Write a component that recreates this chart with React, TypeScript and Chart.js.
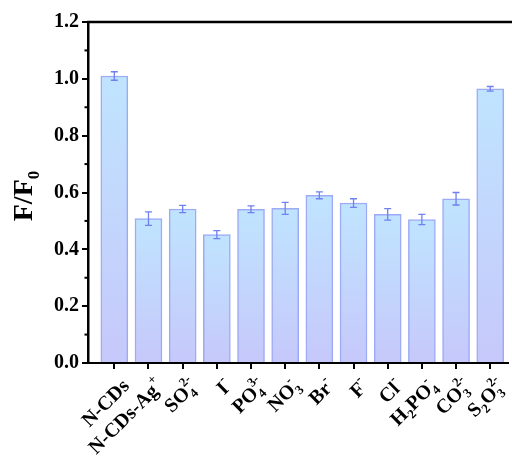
import React, { useEffect, useRef } from "react";
import { Chart, registerables } from "chart.js";

Chart.register(...registerables);

const categories = [
  "N-CDs",
  "N-CDs-Ag^{+}",
  "SO_{4}^{2-}",
  "I^{-}",
  "PO_{4}^{3-}",
  "NO_{3}^{-}",
  "Br^{-}",
  "F^{-}",
  "Cl^{-}",
  "H_{2}PO_{4}^{-}",
  "CO_{3}^{2-}",
  "S_{2}O_{3}^{2-}",
];
const values = [1.01, 0.508, 0.542, 0.452, 0.541, 0.544, 0.59, 0.563, 0.523, 0.505, 0.578, 0.965];
const errors = [0.015, 0.024, 0.013, 0.014, 0.012, 0.021, 0.012, 0.015, 0.02, 0.018, 0.022, 0.008];
const yTicks = [0, 0.2, 0.4, 0.6, 0.8, 1.0, 1.2];
const yMinorTicks = [0.1, 0.3, 0.5, 0.7, 0.9, 1.1];
const yTitleMain = "F/F";
const yTitleSub = "0";

const FONT = "'Liberation Serif', 'Times New Roman', serif";

type Run = { t: "n" | "sub" | "sup" | "ss"; a: string; b?: string };

function parseLabel(s: string): Run[] {
  const runs: Run[] = [];
  let i = 0;
  let buf = "";
  const flush = () => {
    if (buf) runs.push({ t: "n", a: buf });
    buf = "";
  };
  while (i < s.length) {
    const c = s[i];
    if ((c === "_" || c === "^") && s[i + 1] === "{") {
      flush();
      const end = s.indexOf("}", i);
      const txt = s.slice(i + 2, end);
      const type = c === "_" ? "sub" : "sup";
      const last = runs[runs.length - 1];
      if (type === "sup" && last && last.t === "sub") {
        last.t = "ss";
        last.b = txt;
      } else {
        runs.push({ t: type, a: txt });
      }
      i = end + 1;
    } else {
      buf += c;
      i++;
    }
  }
  flush();
  return runs;
}

const labelsPlugin = {
  id: "customLabels",
  afterDraw(chart: any) {
    const { ctx, scales, chartArea } = chart;
    const xs = scales.x;
    const ys = scales.y;
    ctx.save();
    // top frame line
    ctx.strokeStyle = "#000";
    ctx.lineWidth = 2.5;
    ctx.beginPath();
    ctx.moveTo(chartArea.left - 1, chartArea.top);
    ctx.lineTo(chart.width, chartArea.top);
    ctx.stroke();
    // minor y ticks
    ctx.lineWidth = 2;
    yMinorTicks.forEach((v) => {
      const y = ys.getPixelForValue(v);
      ctx.beginPath();
      ctx.moveTo(chartArea.left - 3.5, y);
      ctx.lineTo(chartArea.left, y);
      ctx.stroke();
    });
    // x labels
    const big = 20;
    const small = 13;
    ctx.fillStyle = "#000";
    categories.forEach((lab, i) => {
      const runs = parseLabel(lab);
      const fb = `bold ${big}px ${FONT}`;
      const fs = `bold ${small}px ${FONT}`;
      let total = 0;
      const widths = runs.map((r) => {
        let w = 0;
        if (r.t === "n") {
          ctx.font = fb;
          w = ctx.measureText(r.a).width;
        } else {
          ctx.font = fs;
          w = ctx.measureText(r.a).width;
          if (r.b) w = Math.max(w, ctx.measureText(r.b).width);
        }
        total += w;
        return w;
      });
      const x = xs.getPixelForValue(i + 1);
      const y0 = chartArea.bottom;
      ctx.save();
      ctx.translate(x + 11, y0 + 19);
      ctx.rotate(-Math.PI / 4);
      ctx.textAlign = "left";
      ctx.textBaseline = "alphabetic";
      let cx = -total;
      const base = 7;
      runs.forEach((r, k) => {
        if (r.t === "n") {
          ctx.font = fb;
          ctx.fillText(r.a, cx, base);
        } else if (r.t === "sub") {
          ctx.font = fs;
          ctx.fillText(r.a, cx, base + 5);
        } else if (r.t === "sup") {
          ctx.font = fs;
          ctx.fillText(r.a, cx, base - 10);
        } else {
          ctx.font = fs;
          ctx.fillText(r.a, cx, base + 5);
          ctx.fillText(r.b || "", cx, base - 10);
        }
        cx += widths[k];
      });
      ctx.restore();
    });
    // y title
    ctx.save();
    ctx.translate(32, 196);
    ctx.rotate(-Math.PI / 2);
    ctx.font = `bold 28px ${FONT}`;
    const wm = ctx.measureText(yTitleMain).width;
    ctx.font = `bold 17px ${FONT}`;
    const ws = ctx.measureText(yTitleSub).width;
    const start = -(wm + ws) / 2;
    ctx.textBaseline = "alphabetic";
    ctx.textAlign = "left";
    ctx.font = `bold 28px ${FONT}`;
    ctx.fillText(yTitleMain, start, 0);
    ctx.font = `bold 17px ${FONT}`;
    ctx.fillText(yTitleSub, start + wm, 7);
    ctx.restore();
    ctx.restore();
  },
  afterDatasetsDraw(chart: any) {
    const { ctx, scales } = chart;
    const xs = scales.x;
    const ys = scales.y;
    ctx.save();
    ctx.strokeStyle = "#6F80F0";
    ctx.lineWidth = 1.3;
    values.forEach((v, i) => {
      const x = xs.getPixelForValue(i + 1);
      const yt = ys.getPixelForValue(v + errors[i]);
      const yb = ys.getPixelForValue(v - errors[i]);
      ctx.beginPath();
      ctx.moveTo(x, yt);
      ctx.lineTo(x, yb);
      ctx.moveTo(x - 3.5, yt);
      ctx.lineTo(x + 3.5, yt);
      ctx.moveTo(x - 3.5, yb);
      ctx.lineTo(x + 3.5, yb);
      ctx.stroke();
    });
    ctx.restore();
  },
};

export default function App() {
  const ref = useRef<HTMLCanvasElement | null>(null);
  useEffect(() => {
    if (!ref.current) return;
    const chart = new Chart(ref.current, {
      type: "bar",
      data: {
        datasets: [
          {
            data: values.map((v, i) => ({ x: i + 1, y: v })),
            backgroundColor: (c: any) => {
              const ch = c.chart;
              const ys = ch.scales && ch.scales.y;
              if (!ys || c.type !== "data") return "#C4D6FC";
              const top = ys.getPixelForValue(c.raw.y);
              const bot = ys.getPixelForValue(0);
              if (!isFinite(top) || !isFinite(bot) || top === bot) return "#C4D6FC";
              const g = ch.ctx.createLinearGradient(0, top, 0, bot);
              g.addColorStop(0, "#BFE4FF");
              g.addColorStop(1, "#C6C8FA");
              return g;
            },
            borderColor: "#9DAAF6",
            borderWidth: 1.5,
            barThickness: 27,
          } as any,
        ],
      },
      options: {
        responsive: false,
        animation: false,
        layout: { padding: { top: 22, right: 4, left: 0, bottom: 0 } },
        plugins: { legend: { display: false }, tooltip: { enabled: false } },
        scales: {
          x: {
            type: "linear",
            offset: false,
            min: 0.23,
            max: 12.52,
            afterBuildTicks: (s: any) => {
              s.ticks = categories.map((_, i) => ({ value: i + 1 }));
            },
            afterFit: (s: any) => {
              s.height = 94;
            },
            ticks: { display: false },
            grid: {
              offset: false,
              drawOnChartArea: false,
              drawTicks: true,
              tickLength: 6,
              color: "#000",
              lineWidth: 2,
            },
            border: { display: true, color: "#000", width: 2 },
          },
          y: {
            min: 0,
            max: 1.2,
            afterBuildTicks: (s: any) => {
              s.ticks = yTicks.map((v) => ({ value: v }));
            },
            afterFit: (s: any) => {
              s.width = 88;
            },
            ticks: {
              color: "#000",
              font: { family: FONT, weight: "bold", size: 20 },
              padding: 3,
              callback: (v: any) => Number(v).toFixed(1),
            },
            grid: {
              drawOnChartArea: false,
              drawTicks: true,
              tickLength: 6,
              color: "#000",
              lineWidth: 2,
            },
            border: { display: true, color: "#000", width: 2.5 },
          },
        },
      } as any,
      plugins: [labelsPlugin],
    });
    return () => chart.destroy();
  }, []);
  return (
    <div style={{ position: "absolute", left: 0, top: 0, width: 512, height: 457, background: "#fff" }}>
      <canvas ref={ref} width={512} height={457} />
    </div>
  );
}
